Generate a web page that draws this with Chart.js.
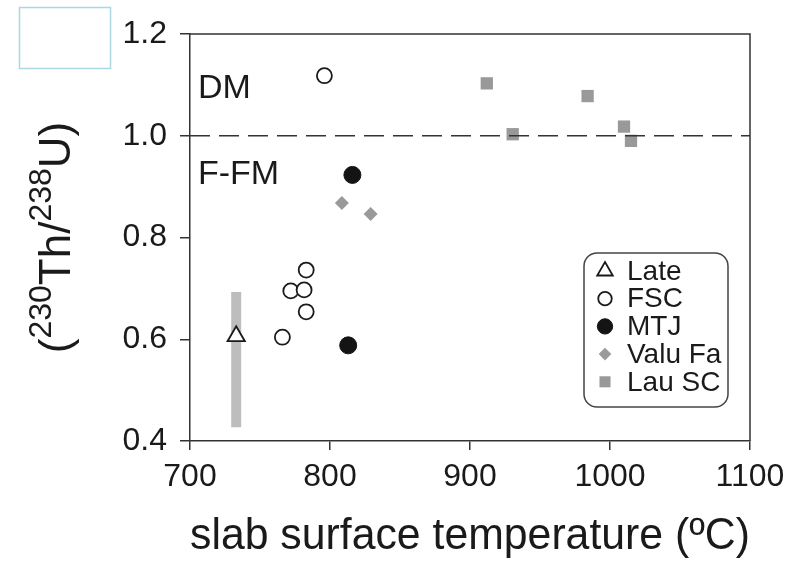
<!DOCTYPE html>
<html>
<head>
<meta charset="utf-8">
<script src="https://cdn.jsdelivr.net/npm/chart.js@4.4.1/dist/chart.umd.min.js"></script>
<style>
    html, body { margin: 0; padding: 0; background: #fff; }
    #wrap { width: 798px; height: 567px; }
</style>
</head>
<body>
<div id="wrap"><canvas id="thChart" width="798" height="567"></canvas></div>
<script>
const xTicks = [700, 800, 900, 1000, 1100];
const yTicks = [0.4, 0.6, 0.8, 1.0, 1.2];

const lateTemp = [733];
const lateRatio = [0.606];
const lateRangeTemp = [733, 733];
const lateRangeRatio = [0.427, 0.693];

const fscTemp = [796, 783, 772, 781.5, 783, 766];
const fscRatio = [1.118, 0.736, 0.695, 0.697, 0.654, 0.604];

const mtjTemp = [816, 813];
const mtjRatio = [0.923, 0.588];

const valuTemp = [808.5, 829];
const valuRatio = [0.868, 0.846];

const lauTemp = [912, 930.5, 984, 1010, 1015];
const lauRatio = [1.103, 1.003, 1.078, 1.018, 0.990];

const equilTemp = [700, 1100];
const equilRatio = [1.0, 1.0];

const legendNames = ['Late', 'FSC', 'MTJ', 'Valu Fa', 'Lau SC'];
const regionNames = ['DM', 'F-FM'];

const FONT = "'Liberation Sans', Arial, Helvetica, sans-serif";
const INK = '#1a1a1a';

function toPoints(xs, ys) {
    return xs.map((x, i) => ({ x: x, y: ys[i] }));
}

// text labels inside the plot, anchored in data units
const regionAnchors = [
    { x: 705.7, y: 1.074 },
    { x: 705.7, y: 0.906 }
];

const decorPlugin = {
    id: 'decor',
    afterDraw(chart) {
        const ctx = chart.ctx;
        const area = chart.chartArea;
        const xs = chart.scales.x;
        const ys = chart.scales.y;
        ctx.save();

        // close the frame (top + right)
        ctx.strokeStyle = '#333';
        ctx.lineWidth = 1.5;
        ctx.beginPath();
        ctx.moveTo(area.left, area.top);
        ctx.lineTo(area.right, area.top);
        ctx.lineTo(area.right, area.bottom);
        ctx.stroke();

        // region labels
        ctx.fillStyle = INK;
        ctx.font = '34px ' + FONT;
        ctx.textAlign = 'left';
        ctx.textBaseline = 'alphabetic';
        regionNames.forEach((name, i) => {
            ctx.fillText(name, xs.getPixelForValue(regionAnchors[i].x), ys.getPixelForValue(regionAnchors[i].y));
        });

        // y axis title with superscripts, rotated
        const parts = [
            { t: '(', sup: false }, { t: '230', sup: true }, { t: 'Th/', sup: false },
            { t: '238', sup: true }, { t: 'U)', sup: false }
        ];
        const mainFont = '44px ' + FONT;
        const supFont = '32px ' + FONT;
        let total = 0;
        parts.forEach(p => {
            ctx.font = p.sup ? supFont : mainFont;
            p.w = ctx.measureText(p.t).width;
            total += p.w;
        });
        ctx.translate(70, (area.top + area.bottom) / 2);
        ctx.rotate(-Math.PI / 2);
        let u = -total / 2;
        parts.forEach(p => {
            ctx.font = p.sup ? supFont : mainFont;
            ctx.fillText(p.t, u, p.sup ? -19 : 0);
            u += p.w;
        });
        ctx.setTransform(1, 0, 0, 1, 0, 0);

        // stray light box top-left
        ctx.strokeStyle = '#a9d9df';
        ctx.lineWidth = 1.5;
        ctx.strokeRect(19.5, 7.5, 91, 61);

        // legend
        const bx = 584, by = 253, bw = 144, bh = 154, r = 13;
        ctx.fillStyle = '#fff';
        ctx.strokeStyle = '#444';
        ctx.lineWidth = 1.5;
        ctx.beginPath();
        ctx.roundRect(bx, by, bw, bh, r);
        ctx.fill();
        ctx.stroke();

        ctx.font = '28px ' + FONT;
        ctx.textBaseline = 'middle';
        legendNames.forEach((name, i) => {
            const ds = chart.data.datasets.find(d => d.label === name);
            const cy = by + 18 + i * 27.7;
            ctx.fillStyle = ds.backgroundColor;
            ctx.strokeStyle = ds.borderColor;
            ctx.lineWidth = ds.borderWidth;
            Chart.helpers.drawPoint(ctx, {
                pointStyle: ds.pointStyle,
                radius: ds.pointRadius * 0.9,
                rotation: 0,
                borderWidth: ds.borderWidth
            }, bx + 21, cy);
            ctx.fillStyle = INK;
            ctx.fillText(name, bx + 43, cy + 1);
        });
        ctx.restore();
    }
};

const ctx = document.getElementById('thChart').getContext('2d');
new Chart(ctx, {
    type: 'scatter',
    data: {
        datasets: [
            {
                label: 'secular equilibrium',
                data: toPoints(equilTemp, equilRatio),
                showLine: true,
                borderColor: '#333',
                borderWidth: 1.5,
                borderDash: [20, 9],
                pointRadius: 0,
                order: 0
            },
            {
                label: 'Late range',
                data: toPoints(lateRangeTemp, lateRangeRatio),
                showLine: true,
                borderColor: '#bdbdbd',
                borderWidth: 10,
                pointRadius: 0,
                order: 3
            },
            {
                label: 'Late',
                data: toPoints(lateTemp, lateRatio),
                pointStyle: 'triangle',
                pointRadius: 10,
                backgroundColor: '#fff',
                borderColor: INK,
                borderWidth: 1.8,
                order: 1
            },
            {
                label: 'FSC',
                data: toPoints(fscTemp, fscRatio),
                pointStyle: 'circle',
                pointRadius: 7.5,
                backgroundColor: '#fff',
                borderColor: INK,
                borderWidth: 1.8,
                order: 1
            },
            {
                label: 'MTJ',
                data: toPoints(mtjTemp, mtjRatio),
                pointStyle: 'circle',
                pointRadius: 8.5,
                backgroundColor: '#141414',
                borderColor: '#141414',
                borderWidth: 1,
                order: 1
            },
            {
                label: 'Valu Fa',
                data: toPoints(valuTemp, valuRatio),
                pointStyle: 'rectRot',
                pointRadius: 7,
                backgroundColor: '#9a9a9a',
                borderColor: '#9a9a9a',
                borderWidth: 0,
                order: 1
            },
            {
                label: 'Lau SC',
                data: toPoints(lauTemp, lauRatio),
                pointStyle: 'rect',
                pointRadius: 8.7,
                backgroundColor: '#999999',
                borderColor: '#999999',
                borderWidth: 0,
                order: 1
            }
        ]
    },
    options: {
        responsive: false,
        animation: false,
        events: [],
        layout: {
            padding: { top: 34, right: 48, left: 0, bottom: 0 }
        },
        plugins: {
            legend: { display: false },
            tooltip: { enabled: false }
        },
        scales: {
            x: {
                type: 'linear',
                min: 700,
                max: 1100,
                afterBuildTicks: function (scale) {
                    scale.ticks = xTicks.map(v => ({ value: v }));
                },
                afterFit: function (scale) {
                    scale.height = 126;
                },
                grid: {
                    drawOnChartArea: false,
                    drawTicks: true,
                    tickLength: 9,
                    color: '#333',
                    lineWidth: 1.5
                },
                border: { display: true, color: '#333', width: 1.5 },
                ticks: {
                    color: INK,
                    padding: 8,
                    maxRotation: 0,
                    font: { family: FONT, size: 32 },
                    callback: function (value) {
                        return String(value);
                    }
                },
                title: {
                    display: true,
                    text: 'slab surface temperature (ºC)',
                    color: INK,
                    font: { family: FONT, size: 45 },
                    padding: { top: 0, bottom: 3 }
                }
            },
            y: {
                type: 'linear',
                min: 0.4,
                max: 1.2,
                afterBuildTicks: function (scale) {
                    scale.ticks = yTicks.map(v => ({ value: v }));
                },
                afterFit: function (scale) {
                    scale.width = 190;
                },
                grid: {
                    drawOnChartArea: false,
                    drawTicks: true,
                    tickLength: 10,
                    color: '#333',
                    lineWidth: 1.5
                },
                border: { display: true, color: '#333', width: 1.5 },
                ticks: {
                    color: INK,
                    padding: 13,
                    font: { family: FONT, size: 32 },
                    callback: function (value) {
                        return value.toFixed(1);
                    }
                }
            }
        }
    },
    plugins: [decorPlugin]
});
</script>
</body>
</html>
